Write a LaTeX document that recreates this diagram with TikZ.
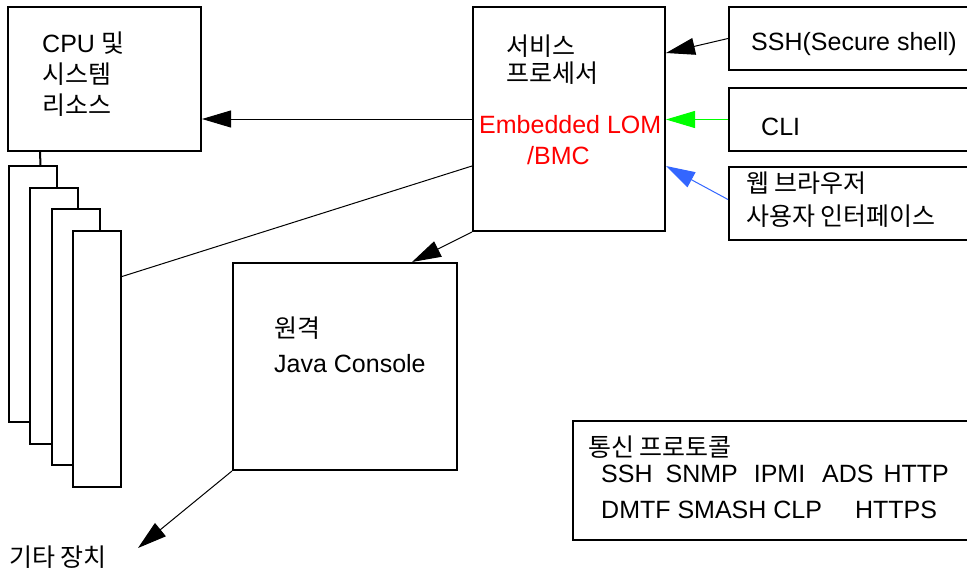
\documentclass[tikz,border=0pt]{standalone}
\usepackage{fontspec}
\setmainfont{Liberation Sans}
\newfontfamily\kr{Noto Sans CJK KR}
\usetikzlibrary{positioning,arrows.meta}
\definecolor{lomred}{RGB}{255,0,0}
\definecolor{cligreen}{RGB}{0,255,0}
\definecolor{webblue}{RGB}{51,102,255}

\begin{document}
\begin{tikzpicture}[x=1pt,y=-1pt,font=\fontsize{25pt}{31pt}\selectfont,
  box/.style={draw,line width=2pt,fill=white,inner sep=0pt},
  txt/.style={anchor=base west,inner sep=0pt,align=left},
  conn/.style={line width=1pt},
  tip/.style={conn,-{Triangle[length=29pt,width=17pt]}}]
\useasboundingbox (0,0) rectangle (967,570);
\clip (0,0) rectangle (967,570);
\node[box,minimum width=193pt,minimum height=144pt] (cpu) at (104.5,79) {};
\foreach \i in {0,...,3}
  \node[box,minimum width=48pt,minimum height=256pt] (card\i) at (32.5+21.5*\i,294+21.5*\i) {};
\node[box,minimum width=192pt,minimum height=224pt] (sp) at (569,119) {};
\node[box,minimum width=224pt,minimum height=207pt] (java) at (345,366.5) {};
\node[box,minimum width=261pt,minimum height=63pt] (ssh) at (859.5,38.5) {};
\node[box,minimum width=261pt,minimum height=63pt] (cli) at (859.5,119.5) {};
\node[box,minimum width=261pt,minimum height=73pt] (web) at (859.5,203.5) {};
\node[box,minimum width=417pt,minimum height=119pt] (proto) at (781.5,480.5) {};
\node[txt] (cputxt) at (42,114) {CPU {\kr 및}\\{\kr 시스템}\\{\kr 리소스}};
\node[txt,font=\fontsize{25pt}{27pt}\selectfont] (sptxt) at (506,82) {{\kr 서비스}\\{\kr 프로세서}};
\node[txt,text=lomred] (lom) at (479,164) {Embedded LOM\\\hspace*{48pt}/BMC};
\node[txt] (sshtxt) at (751,50) {SSH(Secure shell)};
\node[txt] (clitxt) at (761,135) {CLI};
\node[txt,font=\fontsize{25pt}{33pt}\selectfont] (webtxt) at (746,225) {{\kr 웹 브라우저}\\{\kr 사용자 인터페이스}};
\node[txt,font=\fontsize{25pt}{35pt}\selectfont] (javatxt) at (274,372) {{\kr 원격}\\Java Console};
\node[txt] (other) at (9,566) {\kr 기타 장치};
\node[txt] (prototxt) at (588,456) {\kr 통신 프로토콜};
\node[txt,font=\fontsize{25pt}{36pt}\selectfont] (protolist) at (601,518) {SSH\hspace{13pt}SNMP\hspace{16pt}IPMI\hspace{17pt}ADS\hspace{10pt}HTTP\\DMTF SMASH CLP\hspace{33pt}HTTPS};
\coordinate (othertip) at (138,548);
\draw[conn,line width=2pt] ([xshift=33pt]cpu.south west) -- ([xshift=33pt]card0.north west);
\draw[conn] ([yshift=-47pt]card3.north east) -- ([yshift=-160pt]sp.north west);
\draw[tip] (sp.west) -- (sp.west -| cpu.east);
\draw[tip] (sp.south west) -- ([xshift=-46pt]java.north east);
\draw[tip] (java.south west) -- (othertip);
\draw[tip] (ssh.west) -- ([yshift=-47pt]sp.north east);
\draw[tip,cligreen] (cli.west) -- (cli.west -| sp.east);
\draw[tip,webblue] ([yshift=4pt]web.west) -- ([yshift=-160pt]sp.north east);
\end{tikzpicture}
\end{document}
